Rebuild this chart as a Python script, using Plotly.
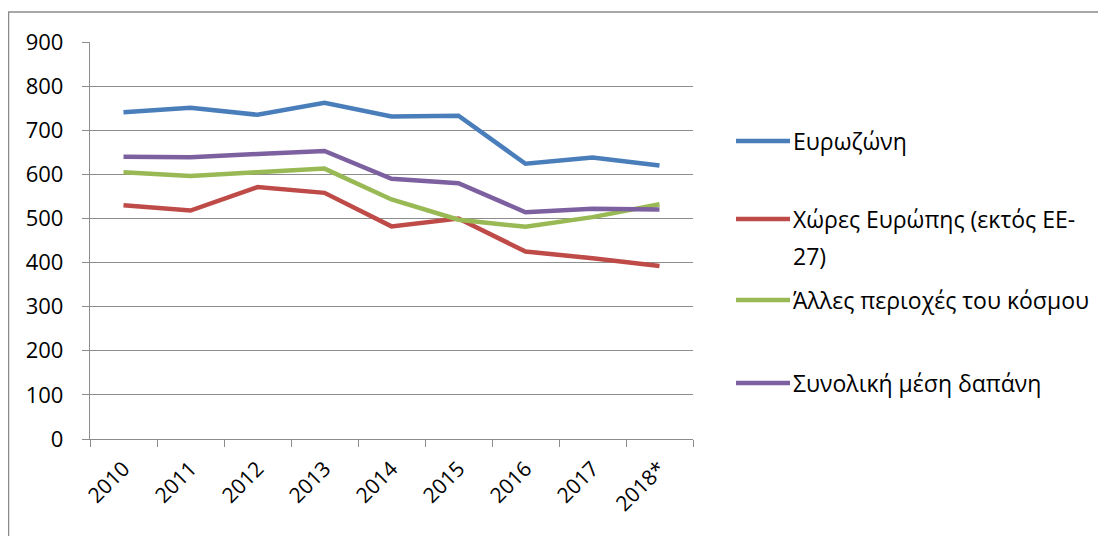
import plotly.graph_objects as go

years = ["2010", "2011", "2012", "2013", "2014", "2015", "2016", "2017", "2018*"]
eurozone = [741, 751, 735, 762, 731, 733, 624, 638, 620]
europe_non_eu = [530, 518, 571, 558, 482, 500, 425, 410, 392]
other_world = [605, 596, 605, 613, 543, 497, 481, 503, 532]
total_avg = [640, 639, 646, 653, 590, 580, 514, 522, 520]

series_names = ["Ευρωζώνη", "Χώρες Ευρώπης (εκτός ΕΕ-27)", "Άλλες περιοχές του κόσμου", "Συνολική μέση δαπάνη"]
series_values = [eurozone, europe_non_eu, other_world, total_avg]
colors = ["#4A7EBB", "#BE4B48", "#98B954", "#7D60A0"]

OFF = 8  # page body margin
W, H = 1098, 528
L, T = 90 - OFF, 42 - OFF
pw, ph = 603, 397
R, B = W - L - pw, H - T - ph

def px_x(x):  # page pixel -> paper
    return (x - OFF - L) / pw

def px_y(y):
    return (T + ph - (y - OFF)) / ph

fig = go.Figure()
for name, vals, c in zip(series_names, series_values, colors):
    fig.add_trace(go.Scatter(x=years, y=vals, mode="lines", name=name,
                             line=dict(color=c, width=4.5), showlegend=False))

font = "Open Sans"
grid = "#8C8C8C"

# manual legend (Excel-style)
leg_y = [141, 219, 300, 383]
shapes = []
annotations = []
for i, (name, c) in enumerate(zip(series_names, colors)):
    y = leg_y[i]
    shapes.append(dict(type="line", xref="paper", yref="paper",
                       x0=px_x(736), x1=px_x(790), y0=px_y(y), y1=px_y(y),
                       line=dict(color=c, width=4.5)))
    if i == 1:
        parts = ["Χώρες Ευρώπης (εκτός ΕΕ-", "27)"]
    else:
        parts = [name]
    for j, p in enumerate(parts):
        annotations.append(dict(text=p, xref="paper", yref="paper",
                                x=px_x(791), y=px_y(y + 37 * j), xanchor="left", yanchor="middle",
                                showarrow=False, font=dict(family=font, size=23, color="#000000")))

# outer chart border (left and top)
shapes.append(dict(type="line", xref="paper", yref="paper",
                   x0=px_x(8.5), x1=px_x(8.5), y0=px_y(12), y1=px_y(560),
                   line=dict(color="#8A8A8A", width=1.5)))
shapes.append(dict(type="line", xref="paper", yref="paper",
                   x0=px_x(8), x1=px_x(1120), y0=px_y(12), y1=px_y(12),
                   line=dict(color="#8A8A8A", width=1.5)))

fig.update_layout(
    width=W, height=H,
    margin=dict(l=L, r=R, t=T, b=B, pad=0),
    paper_bgcolor="white", plot_bgcolor="white",
    shapes=shapes, annotations=annotations,
    font=dict(family=font, size=21, color="#000000"),
)
fig.update_xaxes(type="category", tickson="boundaries", ticks="outside", ticklen=7,
                 tickcolor=grid, tickwidth=1.3, showline=True, linecolor=grid, linewidth=1.3,
                 showgrid=False, tickangle=-45, tickfont=dict(family=font, size=21),
                 range=[-0.5, 8.5], ticklabelstandoff=8)
fig.update_yaxes(range=[0, 900], dtick=100, ticks="outside", ticklen=7, tickcolor=grid, tickwidth=1.3,
                 showline=True, linecolor=grid, linewidth=1.3, showgrid=True, gridcolor=grid,
                 gridwidth=1.3, zeroline=False, tickfont=dict(family=font, size=22), ticklabelstandoff=14)

fig.write_html("out.html")
